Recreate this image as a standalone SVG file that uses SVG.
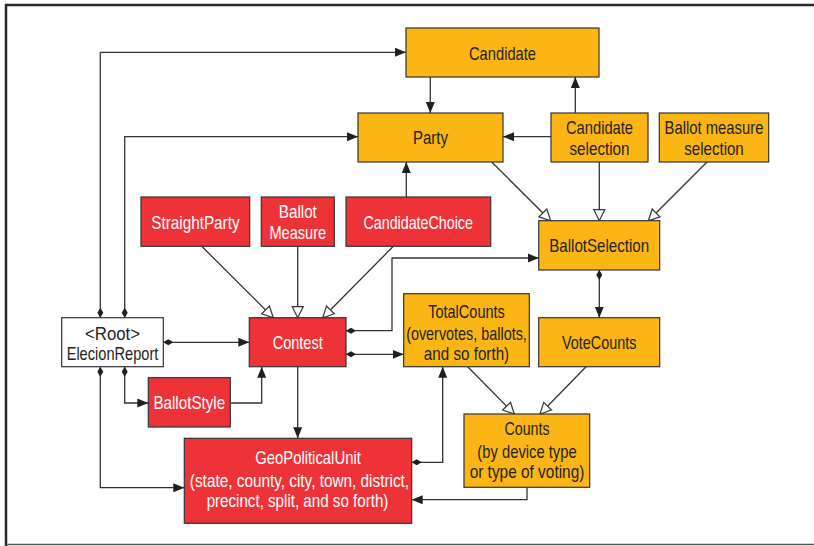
<svg xmlns="http://www.w3.org/2000/svg" width="814" height="546" viewBox="0 0 814 546">
<style>
.o{fill:#fbb615;stroke:#333;stroke-width:1.2}
.r{fill:#ee3338;stroke:#333;stroke-width:1.2}
.w{fill:#fff;stroke:#333;stroke-width:1.2}
text{font-family:"Liberation Sans",Arial,sans-serif;font-size:18.5px;text-anchor:middle}
.dk{fill:#231f20}
.wt{fill:#fff}
.c path{fill:none;stroke:#333;stroke-width:1.3}
</style>
<defs>
<marker id="a" markerUnits="userSpaceOnUse" markerWidth="12" markerHeight="10" refX="11" refY="5" orient="auto" viewBox="0 0 12 10"><path d="M0,0.5 L11,5 L0,9.5 z" fill="#231f20"/></marker>
<marker id="d" markerUnits="userSpaceOnUse" markerWidth="12" markerHeight="8" refX="0.5" refY="4" orient="auto" viewBox="0 0 12 8"><path d="M0.5,4 L5.5,1 L10.5,4 L5.5,7 z" fill="#231f20"/></marker>
<marker id="h" markerUnits="userSpaceOnUse" markerWidth="14" markerHeight="14" refX="12" refY="7" orient="auto" viewBox="0 0 14 14"><path d="M1,1.5 L12,7 L1,12.5 z" fill="#fff" stroke="#333" stroke-width="1.2"/></marker>
</defs>
<rect x="0" y="0" width="814" height="546" fill="#fff"/>
<path d="M6,546 V5 H814" fill="none" stroke="#2a2a2a" stroke-width="2.5"/>
<path d="M6,544.5 H814" fill="none" stroke="#555" stroke-width="1.5"/>
<g class="c" id="connectors">
<path d="M100.3,317.7 V52.3 H406" marker-start="url(#d)" marker-end="url(#a)"/>
<path d="M124.7,317.7 V136.7 H358" marker-start="url(#d)" marker-end="url(#a)"/>
<path d="M430.3,77 V113" marker-end="url(#a)"/>
<path d="M575.3,113 V77" marker-end="url(#a)"/>
<path d="M551,136.7 H503" marker-end="url(#a)"/>
<path d="M406.3,197 V162" marker-end="url(#a)"/>
<path d="M491.7,162 L550.7,220.7" marker-end="url(#h)"/>
<path d="M599.3,162 V220.7" marker-end="url(#h)"/>
<path d="M707,162 L648.3,220.7" marker-end="url(#h)"/>
<path d="M201.7,246.3 L273.3,317.7" marker-end="url(#h)"/>
<path d="M297.7,246.3 V317.7" marker-end="url(#h)"/>
<path d="M393.3,246.3 L322.7,317.7" marker-end="url(#h)"/>
<path d="M346,330.7 H392 V258 H538.7" marker-start="url(#d)" marker-end="url(#a)"/>
<path d="M346,354.3 H403.7" marker-start="url(#d)" marker-end="url(#a)"/>
<path d="M163.3,342.3 H249.3" marker-start="url(#d)" marker-end="url(#a)"/>
<path d="M124.7,366.7 V403 H148.3" marker-start="url(#d)" marker-end="url(#a)"/>
<path d="M230.3,403 H261.7 V366.7" marker-end="url(#a)"/>
<path d="M100.3,366.7 V487.7 H184.3" marker-start="url(#d)" marker-end="url(#a)"/>
<path d="M297.7,366.7 V438.3" marker-end="url(#a)"/>
<path d="M599.3,270 V317.7" marker-start="url(#d)" marker-end="url(#a)"/>
<path d="M467.7,366.7 L514.3,414" marker-end="url(#h)"/>
<path d="M586,366.7 L540,414" marker-end="url(#h)"/>
<path d="M411.7,462.3 H442.7 V366.7" marker-start="url(#d)" marker-end="url(#a)"/>
<path d="M527,487.3 V499.7 H411.7" marker-end="url(#a)"/>
</g>
<g id="candidate"><rect class="o" x="406" y="28" width="193" height="49"/><text class="dk" x="502.5" y="59.5" textLength="67" lengthAdjust="spacingAndGlyphs">Candidate</text></g>
<g id="party"><rect class="o" x="358" y="113" width="145" height="49"/><text class="dk" x="430.5" y="144" textLength="35" lengthAdjust="spacingAndGlyphs">Party</text></g>
<g id="candidate-selection"><rect class="o" x="551" y="113" width="97" height="49"/><text class="dk" x="599.5" y="133.5" textLength="67" lengthAdjust="spacingAndGlyphs">Candidate</text><text class="dk" x="599.5" y="155" textLength="60" lengthAdjust="spacingAndGlyphs">selection</text></g>
<g id="ballot-measure-selection"><rect class="o" x="659.3" y="113" width="109.4" height="49"/><text class="dk" x="714" y="133.5" textLength="99" lengthAdjust="spacingAndGlyphs">Ballot measure</text><text class="dk" x="714" y="155" textLength="59.5" lengthAdjust="spacingAndGlyphs">selection</text></g>
<g id="straight-party"><rect class="r" x="141" y="197" width="108.7" height="49.3"/><text class="wt" x="195.4" y="228.5" textLength="88.3" lengthAdjust="spacingAndGlyphs">StraightParty</text></g>
<g id="ballot-measure"><rect class="r" x="261.3" y="197" width="73" height="49.3"/><text class="wt" x="297.8" y="217.5" textLength="38" lengthAdjust="spacingAndGlyphs">Ballot</text><text class="wt" x="297.8" y="239" textLength="56.7" lengthAdjust="spacingAndGlyphs">Measure</text></g>
<g id="candidate-choice"><rect class="r" x="346" y="197" width="144.7" height="49.3"/><text class="wt" x="418.2" y="228.5" textLength="109.4" lengthAdjust="spacingAndGlyphs">CandidateChoice</text></g>
<g id="ballot-selection"><rect class="o" x="538.7" y="220.7" width="121" height="49.3"/><text class="dk" x="599.2" y="252" textLength="100" lengthAdjust="spacingAndGlyphs">BallotSelection</text></g>
<g id="root"><rect class="w" x="61.7" y="317.7" width="101.6" height="49"/><text class="dk" x="112.5" y="339.5" textLength="55" lengthAdjust="spacingAndGlyphs">&lt;Root&gt;</text><text class="dk" x="112.5" y="360" textLength="91.7" lengthAdjust="spacingAndGlyphs">ElecionReport</text></g>
<g id="contest"><rect class="r" x="249.3" y="317.7" width="96.7" height="49"/><text class="wt" x="297.7" y="349" textLength="50" lengthAdjust="spacingAndGlyphs">Contest</text></g>
<g id="total-counts"><rect class="o" x="403.7" y="293.7" width="125.6" height="73"/><text class="dk" x="466.5" y="317.5" textLength="76.7" lengthAdjust="spacingAndGlyphs">TotalCounts</text><text class="dk" x="466.5" y="339.5" textLength="120.7" lengthAdjust="spacingAndGlyphs">(overvotes, ballots,</text><text class="dk" x="466.5" y="359.5" textLength="85.3" lengthAdjust="spacingAndGlyphs">and so forth)</text></g>
<g id="vote-counts"><rect class="o" x="538.7" y="317.7" width="121" height="49"/><text class="dk" x="599.2" y="349" textLength="74.3" lengthAdjust="spacingAndGlyphs">VoteCounts</text></g>
<g id="ballot-style"><rect class="r" x="148.3" y="377.7" width="82" height="49.3"/><text class="wt" x="189.3" y="409" textLength="71.7" lengthAdjust="spacingAndGlyphs">BallotStyle</text></g>
<g id="geopolitical-unit"><rect class="r" x="184.3" y="438.3" width="227.4" height="85"/><text class="wt" x="308" y="464" textLength="105.7" lengthAdjust="spacingAndGlyphs">GeoPoliticalUnit</text><text class="wt" x="299.5" y="486.5" textLength="219.3" lengthAdjust="spacingAndGlyphs">(state, county, city, town, district,</text><text class="wt" x="297.5" y="507" textLength="181.7" lengthAdjust="spacingAndGlyphs">precinct, split, and so forth)</text></g>
<g id="counts"><rect class="o" x="464" y="414" width="125.7" height="73.3"/><text class="dk" x="527" y="435" textLength="45" lengthAdjust="spacingAndGlyphs">Counts</text><text class="dk" x="527" y="457.5" textLength="99.3" lengthAdjust="spacingAndGlyphs">(by device type</text><text class="dk" x="527" y="478" textLength="114.7" lengthAdjust="spacingAndGlyphs">or type of voting)</text></g>
</svg>
